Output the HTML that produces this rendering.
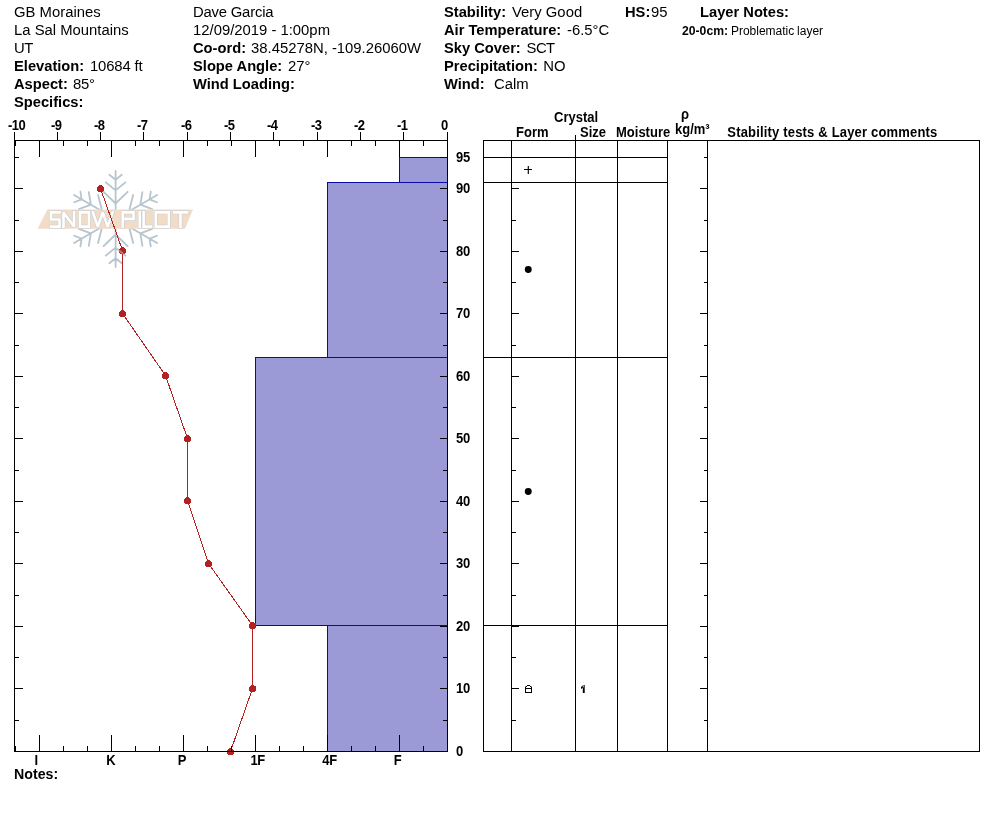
<!DOCTYPE html>
<html><head><meta charset="utf-8"><title>Snow Pit Profile</title>
<style>
html,body{margin:0;padding:0;background:#fff;}
body{width:994px;height:840px;position:relative;overflow:hidden;font-family:"Liberation Sans",sans-serif;color:#000;}
.t{position:absolute;white-space:pre;font-size:14.85px;line-height:18px;height:18px;transform:scaleY(1.0);transform-origin:0 14px;}
.k{transform:scaleY(1.03);}
.b{font-weight:bold;font-size:14.7px;}
.l{position:absolute;white-space:pre;font-size:13px;font-weight:bold;line-height:14px;height:14px;transform:scaleY(1.08);transform-origin:0 12px;}
.c{text-align:center;width:40px;margin-left:-20px;}
.s{position:absolute;white-space:pre;font-size:12px;line-height:14px;height:14px;}
.s b{font-size:12.2px;}
svg{position:absolute;left:0;top:0;}
#tx{position:absolute;left:0;top:0;width:994px;height:840px;will-change:transform;}
</style></head><body>
<svg width="994" height="840" viewBox="0 0 994 840">
<defs><g id="flake" fill="none" stroke-width="1.8" stroke-linecap="round" stroke-linejoin="round">
<path transform="translate(115.6,219.0) rotate(0)" d="M0,-10 L0,-48 M-6.2,-44.2 L0,-39.2 L6.2,-44.2 M-9.8,-36.6 L0,-28.6 L9.8,-36.6 M-12,-27.2 L0,-15.5 L12,-27.2"/>
<path transform="translate(115.6,219.0) rotate(60)" d="M0,-10 L0,-48 M-6.2,-44.2 L0,-39.2 L6.2,-44.2 M-9.8,-36.6 L0,-28.6 L9.8,-36.6 M-12,-27.2 L0,-15.5 L12,-27.2"/>
<path transform="translate(115.6,219.0) rotate(120)" d="M0,-10 L0,-48 M-6.2,-44.2 L0,-39.2 L6.2,-44.2 M-9.8,-36.6 L0,-28.6 L9.8,-36.6 M-12,-27.2 L0,-15.5 L12,-27.2"/>
<path transform="translate(115.6,219.0) rotate(180)" d="M0,-10 L0,-48 M-6.2,-44.2 L0,-39.2 L6.2,-44.2 M-9.8,-36.6 L0,-28.6 L9.8,-36.6 M-12,-27.2 L0,-15.5 L12,-27.2"/>
<path transform="translate(115.6,219.0) rotate(240)" d="M0,-10 L0,-48 M-6.2,-44.2 L0,-39.2 L6.2,-44.2 M-9.8,-36.6 L0,-28.6 L9.8,-36.6 M-12,-27.2 L0,-15.5 L12,-27.2"/>
<path transform="translate(115.6,219.0) rotate(300)" d="M0,-10 L0,-48 M-6.2,-44.2 L0,-39.2 L6.2,-44.2 M-9.8,-36.6 L0,-28.6 L9.8,-36.6 M-12,-27.2 L0,-15.5 L12,-27.2"/>
</g></defs>
<use href="#flake" stroke="#b7c5ce"/>
<polygon points="47.4,209.5 193,209.5 185,228.8 37.6,228.8" fill="#f1dcc8"/>
<path d="M59.5,212.4 H51.0 V219.5 H59.5 V226.6 H51.0 M63.5,226.6 V212.4 L74.0,226.6 V212.4 M80.0,212.4 H88.9 V226.6 H80.0 Z M92.9,212.4 L97.825,226.6 L102.75,212.4 L107.675,226.6 L112.6,212.4 M122.7,226.6 V212.4 H133.5 V218.9 H122.7 M139.7,212.4 V226.6 M143.6,212.4 V226.6 H151.2 M155.8,212.4 H168.8 V226.6 H155.8 Z M173.9,212.4 H187.0 M180.45,212.4 V226.6" fill="none" stroke="#c3ccd3" stroke-width="3.6" stroke-linejoin="miter" stroke-miterlimit="2" stroke-linecap="square"/>
<path d="M59.5,212.4 H51.0 V219.5 H59.5 V226.6 H51.0 M63.5,226.6 V212.4 L74.0,226.6 V212.4 M80.0,212.4 H88.9 V226.6 H80.0 Z M92.9,212.4 L97.825,226.6 L102.75,212.4 L107.675,226.6 L112.6,212.4 M122.7,226.6 V212.4 H133.5 V218.9 H122.7 M139.7,212.4 V226.6 M143.6,212.4 V226.6 H151.2 M155.8,212.4 H168.8 V226.6 H155.8 Z M173.9,212.4 H187.0 M180.45,212.4 V226.6" fill="none" stroke="#ffffff" stroke-width="2.6" stroke-linejoin="miter" stroke-miterlimit="2" stroke-linecap="square"/>
<g shape-rendering="crispEdges">
<rect x="399" y="157" width="48" height="25" fill="#9b9ad7"/>
<rect x="327" y="182" width="120" height="175" fill="#9b9ad7"/>
<rect x="255" y="357" width="192" height="268" fill="#9b9ad7"/>
<rect x="327" y="625" width="120" height="126" fill="#9b9ad7"/>
<rect x="399" y="157" width="49" height="1" fill="#0a0aa8"/>
<rect x="399" y="182" width="49" height="1" fill="#0a0aa8"/>
<rect x="399" y="157" width="1" height="26" fill="#0a0aa8"/>
<rect x="327" y="182" width="121" height="1" fill="#0a0aa8"/>
<rect x="327" y="357" width="121" height="1" fill="#0a0aa8"/>
<rect x="327" y="182" width="1" height="176" fill="#0a0aa8"/>
<rect x="255" y="357" width="193" height="1" fill="#0a0aa8"/>
<rect x="255" y="625" width="193" height="1" fill="#0a0aa8"/>
<rect x="255" y="357" width="1" height="269" fill="#0a0aa8"/>
<rect x="327" y="625" width="121" height="1" fill="#0a0aa8"/>
<rect x="327" y="751" width="121" height="1" fill="#0a0aa8"/>
<rect x="327" y="625" width="1" height="127" fill="#0a0aa8"/>
</g>
<g shape-rendering="crispEdges">
<polyline points="100.5,188.5 122.5,250.5 122.5,313.5 165.5,375.5 187.5,438.5 187.5,500.5 208.5,563.5 252.5,625.5 252.5,688.5 230.5,751.5" fill="none" stroke="#b22222" stroke-width="1"/>
<circle cx="100.5" cy="188.5" r="3.5" fill="#b22222"/>
<circle cx="122.5" cy="250.5" r="3.5" fill="#b22222"/>
<circle cx="122.5" cy="313.5" r="3.5" fill="#b22222"/>
<circle cx="165.5" cy="375.5" r="3.5" fill="#b22222"/>
<circle cx="187.5" cy="438.5" r="3.5" fill="#b22222"/>
<circle cx="187.5" cy="500.5" r="3.5" fill="#b22222"/>
<circle cx="208.5" cy="563.5" r="3.5" fill="#b22222"/>
<circle cx="252.5" cy="625.5" r="3.5" fill="#b22222"/>
<circle cx="252.5" cy="688.5" r="3.5" fill="#b22222"/>
<circle cx="230.5" cy="751.5" r="3.5" fill="#b22222"/>
</g>
<clipPath id="cp"><circle cx="100.5" cy="188.5" r="3.5"/><circle cx="122.5" cy="250.5" r="3.5"/></clipPath>
<use href="#flake" stroke="#dfe6ea" opacity="0.45" clip-path="url(#cp)"/>
<g shape-rendering="crispEdges">
<rect x="14" y="140" width="434" height="1" fill="#000"/>
<rect x="14" y="751" width="434" height="1" fill="#000"/>
<rect x="14" y="132" width="1" height="620" fill="#000"/>
<rect x="447" y="132" width="1" height="620" fill="#000"/>
<rect x="14" y="132" width="1" height="9" fill="#000"/>
<rect x="57" y="132" width="1" height="9" fill="#000"/>
<rect x="100" y="132" width="1" height="9" fill="#000"/>
<rect x="143" y="132" width="1" height="9" fill="#000"/>
<rect x="187" y="132" width="1" height="9" fill="#000"/>
<rect x="230" y="132" width="1" height="9" fill="#000"/>
<rect x="273" y="132" width="1" height="9" fill="#000"/>
<rect x="317" y="132" width="1" height="9" fill="#000"/>
<rect x="360" y="132" width="1" height="9" fill="#000"/>
<rect x="403" y="132" width="1" height="9" fill="#000"/>
<rect x="447" y="132" width="1" height="9" fill="#000"/>
<rect x="15" y="140" width="1" height="6" fill="#000"/>
<rect x="15" y="746" width="1" height="6" fill="#000"/>
<rect x="39" y="140" width="1" height="17" fill="#000"/>
<rect x="39" y="735" width="1" height="17" fill="#000"/>
<rect x="63" y="140" width="1" height="6" fill="#000"/>
<rect x="63" y="746" width="1" height="6" fill="#000"/>
<rect x="87" y="140" width="1" height="6" fill="#000"/>
<rect x="87" y="746" width="1" height="6" fill="#000"/>
<rect x="111" y="140" width="1" height="17" fill="#000"/>
<rect x="111" y="735" width="1" height="17" fill="#000"/>
<rect x="135" y="140" width="1" height="6" fill="#000"/>
<rect x="135" y="746" width="1" height="6" fill="#000"/>
<rect x="159" y="140" width="1" height="6" fill="#000"/>
<rect x="159" y="746" width="1" height="6" fill="#000"/>
<rect x="183" y="140" width="1" height="17" fill="#000"/>
<rect x="183" y="735" width="1" height="17" fill="#000"/>
<rect x="207" y="140" width="1" height="6" fill="#000"/>
<rect x="207" y="746" width="1" height="6" fill="#000"/>
<rect x="231" y="140" width="1" height="6" fill="#000"/>
<rect x="231" y="746" width="1" height="6" fill="#000"/>
<rect x="255" y="140" width="1" height="17" fill="#000"/>
<rect x="255" y="735" width="1" height="17" fill="#000"/>
<rect x="279" y="140" width="1" height="6" fill="#000"/>
<rect x="279" y="746" width="1" height="6" fill="#000"/>
<rect x="303" y="140" width="1" height="6" fill="#000"/>
<rect x="303" y="746" width="1" height="6" fill="#000"/>
<rect x="327" y="140" width="1" height="17" fill="#000"/>
<rect x="327" y="735" width="1" height="17" fill="#000"/>
<rect x="351" y="140" width="1" height="6" fill="#000"/>
<rect x="351" y="746" width="1" height="6" fill="#000"/>
<rect x="375" y="140" width="1" height="6" fill="#000"/>
<rect x="375" y="746" width="1" height="6" fill="#000"/>
<rect x="399" y="140" width="1" height="17" fill="#000"/>
<rect x="399" y="735" width="1" height="17" fill="#000"/>
<rect x="423" y="140" width="1" height="6" fill="#000"/>
<rect x="423" y="746" width="1" height="6" fill="#000"/>
<rect x="447" y="140" width="1" height="6" fill="#000"/>
<rect x="447" y="746" width="1" height="6" fill="#000"/>
<rect x="14" y="751" width="9" height="1" fill="#000"/>
<rect x="440" y="751" width="8" height="1" fill="#000"/>
<rect x="14" y="720" width="5" height="1" fill="#000"/>
<rect x="443" y="720" width="5" height="1" fill="#000"/>
<rect x="14" y="688" width="9" height="1" fill="#000"/>
<rect x="440" y="688" width="8" height="1" fill="#000"/>
<rect x="14" y="657" width="5" height="1" fill="#000"/>
<rect x="443" y="657" width="5" height="1" fill="#000"/>
<rect x="14" y="626" width="9" height="1" fill="#000"/>
<rect x="440" y="626" width="8" height="1" fill="#000"/>
<rect x="14" y="595" width="5" height="1" fill="#000"/>
<rect x="443" y="595" width="5" height="1" fill="#000"/>
<rect x="14" y="563" width="9" height="1" fill="#000"/>
<rect x="440" y="563" width="8" height="1" fill="#000"/>
<rect x="14" y="532" width="5" height="1" fill="#000"/>
<rect x="443" y="532" width="5" height="1" fill="#000"/>
<rect x="14" y="501" width="9" height="1" fill="#000"/>
<rect x="440" y="501" width="8" height="1" fill="#000"/>
<rect x="14" y="470" width="5" height="1" fill="#000"/>
<rect x="443" y="470" width="5" height="1" fill="#000"/>
<rect x="14" y="438" width="9" height="1" fill="#000"/>
<rect x="440" y="438" width="8" height="1" fill="#000"/>
<rect x="14" y="407" width="5" height="1" fill="#000"/>
<rect x="443" y="407" width="5" height="1" fill="#000"/>
<rect x="14" y="376" width="9" height="1" fill="#000"/>
<rect x="440" y="376" width="8" height="1" fill="#000"/>
<rect x="14" y="345" width="5" height="1" fill="#000"/>
<rect x="443" y="345" width="5" height="1" fill="#000"/>
<rect x="14" y="313" width="9" height="1" fill="#000"/>
<rect x="440" y="313" width="8" height="1" fill="#000"/>
<rect x="14" y="282" width="5" height="1" fill="#000"/>
<rect x="443" y="282" width="5" height="1" fill="#000"/>
<rect x="14" y="251" width="9" height="1" fill="#000"/>
<rect x="440" y="251" width="8" height="1" fill="#000"/>
<rect x="14" y="220" width="5" height="1" fill="#000"/>
<rect x="443" y="220" width="5" height="1" fill="#000"/>
<rect x="14" y="188" width="9" height="1" fill="#000"/>
<rect x="440" y="188" width="8" height="1" fill="#000"/>
<rect x="14" y="157" width="5" height="1" fill="#000"/>
<rect x="440" y="157" width="8" height="1" fill="#000"/>
<rect x="483" y="140" width="497" height="1" fill="#000"/>
<rect x="483" y="751" width="497" height="1" fill="#000"/>
<rect x="483" y="140" width="1" height="612" fill="#000"/>
<rect x="979" y="140" width="1" height="612" fill="#000"/>
<rect x="511" y="140" width="1" height="612" fill="#000"/>
<rect x="575" y="140" width="1" height="612" fill="#000"/>
<rect x="617" y="140" width="1" height="612" fill="#000"/>
<rect x="667" y="140" width="1" height="612" fill="#000"/>
<rect x="707" y="140" width="1" height="612" fill="#000"/>
<rect x="575" y="135" width="1" height="6" fill="#000"/>
<rect x="483" y="157" width="185" height="1" fill="#000"/>
<rect x="483" y="182" width="185" height="1" fill="#000"/>
<rect x="483" y="357" width="185" height="1" fill="#000"/>
<rect x="483" y="625" width="185" height="1" fill="#000"/>
<rect x="511" y="751" width="8" height="1" fill="#000"/>
<rect x="700" y="751" width="8" height="1" fill="#000"/>
<rect x="511" y="720" width="5" height="1" fill="#000"/>
<rect x="704" y="720" width="4" height="1" fill="#000"/>
<rect x="511" y="688" width="8" height="1" fill="#000"/>
<rect x="700" y="688" width="8" height="1" fill="#000"/>
<rect x="511" y="657" width="5" height="1" fill="#000"/>
<rect x="704" y="657" width="4" height="1" fill="#000"/>
<rect x="511" y="626" width="8" height="1" fill="#000"/>
<rect x="700" y="626" width="8" height="1" fill="#000"/>
<rect x="511" y="595" width="5" height="1" fill="#000"/>
<rect x="704" y="595" width="4" height="1" fill="#000"/>
<rect x="511" y="563" width="8" height="1" fill="#000"/>
<rect x="700" y="563" width="8" height="1" fill="#000"/>
<rect x="511" y="532" width="5" height="1" fill="#000"/>
<rect x="704" y="532" width="4" height="1" fill="#000"/>
<rect x="511" y="501" width="8" height="1" fill="#000"/>
<rect x="700" y="501" width="8" height="1" fill="#000"/>
<rect x="511" y="470" width="5" height="1" fill="#000"/>
<rect x="704" y="470" width="4" height="1" fill="#000"/>
<rect x="511" y="438" width="8" height="1" fill="#000"/>
<rect x="700" y="438" width="8" height="1" fill="#000"/>
<rect x="511" y="407" width="5" height="1" fill="#000"/>
<rect x="704" y="407" width="4" height="1" fill="#000"/>
<rect x="511" y="376" width="8" height="1" fill="#000"/>
<rect x="700" y="376" width="8" height="1" fill="#000"/>
<rect x="511" y="345" width="5" height="1" fill="#000"/>
<rect x="704" y="345" width="4" height="1" fill="#000"/>
<rect x="511" y="313" width="8" height="1" fill="#000"/>
<rect x="700" y="313" width="8" height="1" fill="#000"/>
<rect x="511" y="282" width="5" height="1" fill="#000"/>
<rect x="704" y="282" width="4" height="1" fill="#000"/>
<rect x="511" y="251" width="8" height="1" fill="#000"/>
<rect x="700" y="251" width="8" height="1" fill="#000"/>
<rect x="511" y="220" width="5" height="1" fill="#000"/>
<rect x="704" y="220" width="4" height="1" fill="#000"/>
<rect x="511" y="188" width="8" height="1" fill="#000"/>
<rect x="700" y="188" width="8" height="1" fill="#000"/>
<rect x="511" y="157" width="5" height="1" fill="#000"/>
<rect x="704" y="157" width="4" height="1" fill="#000"/>
<rect x="524" y="169" width="8" height="1" fill="#000"/>
<rect x="528" y="166" width="1" height="8" fill="#222"/>
<rect x="527" y="166" width="1" height="8" fill="#b8b8b8"/>
<rect x="524" y="169" width="8" height="1" fill="#000"/>
<rect x="527" y="685" width="3" height="1" fill="#000"/>
<rect x="526" y="686" width="1" height="1" fill="#000"/>
<rect x="530" y="686" width="1" height="1" fill="#000"/>
<rect x="525" y="688" width="7" height="1" fill="#000"/>
<rect x="525" y="692" width="7" height="1" fill="#000"/>
<rect x="525" y="687" width="1" height="6" fill="#000"/>
<rect x="531" y="687" width="1" height="6" fill="#000"/>
</g>
<rect x="525" y="686" width="1" height="1" fill="#000" opacity="0.45"/><rect x="531" y="686" width="1" height="1" fill="#000" opacity="0.45"/>
<circle cx="528.25" cy="269.45" r="3.45" fill="#000"/>
<circle cx="528.25" cy="491.45" r="3.45" fill="#000"/>
<path d="M582.8,685 h1.9 v8 h-1.9 Z M583.6,685 L581,687.1 L581,688.9 L583.6,687.2 Z" fill="#000"/>
</svg><div id="tx"><div class="t" style="left:14px;top:3px;">GB Moraines</div><div class="t" style="left:14px;top:21px;">La Sal Mountains</div><div class="t" style="left:14px;top:39px;letter-spacing:-0.5px;">UT</div><div class="t k" style="left:14px;top:57px;"><span class="b">Elevation:</span></div><div class="t" style="left:90px;top:57px;letter-spacing:-0.15px;">10684 ft</div><div class="t k" style="left:14px;top:75px;"><span class="b">Aspect:</span></div><div class="t" style="left:73px;top:75px;letter-spacing:-0.2px;">85°</div><div class="t k" style="left:14px;top:93px;"><span class="b">Specifics:</span></div><div class="t" style="left:193px;top:3px;letter-spacing:-0.2px;">Dave Garcia</div><div class="t" style="left:193px;top:21px;">12/09/2019 - 1:00pm</div><div class="t k" style="left:193px;top:39px;"><span class="b">Co-ord:</span></div><div class="t" style="left:251px;top:39px;">38.45278N, -109.26060W</div><div class="t k" style="left:193px;top:57px;"><span class="b">Slope Angle:</span></div><div class="t" style="left:288px;top:57px;">27°</div><div class="t k" style="left:193px;top:75px;"><span class="b">Wind Loading:</span></div><div class="t k" style="left:444px;top:3px;"><span class="b">Stability:</span></div><div class="t" style="left:512px;top:3px;">Very Good</div><div class="t k" style="left:444px;top:21px;"><span class="b">Air Temperature:</span></div><div class="t" style="left:567px;top:21px;">-6.5°C</div><div class="t k" style="left:444px;top:39px;"><span class="b">Sky Cover:</span></div><div class="t" style="left:526.5px;top:39px;letter-spacing:-0.5px;">SCT</div><div class="t k" style="left:444px;top:57px;"><span class="b">Precipitation:</span></div><div class="t" style="left:543.3px;top:57px;">NO</div><div class="t k" style="left:444px;top:75px;"><span class="b">Wind:</span></div><div class="t" style="left:494px;top:75px;">Calm</div><div class="t k" style="left:625px;top:3px;"><span class="b">HS:</span></div><div class="t" style="left:651px;top:3px;">95</div><div class="t k" style="left:700px;top:3px;"><span class="b">Layer Notes:</span></div><div class="s" style="left:682px;top:24px;word-spacing:-0.5px;"><b>20-0cm:</b> Problematic layer</div><div class="t k" style="left:14px;top:765px;"><span class="b" style="font-size:14.2px">Notes:</span></div><div class="l" style="left:8px;top:119px;letter-spacing:-0.5px;">-10</div><div class="l" style="left:51px;top:119px;letter-spacing:-0.5px;">-9</div><div class="l" style="left:94px;top:119px;letter-spacing:-0.5px;">-8</div><div class="l" style="left:137px;top:119px;letter-spacing:-0.5px;">-7</div><div class="l" style="left:181px;top:119px;letter-spacing:-0.5px;">-6</div><div class="l" style="left:224px;top:119px;letter-spacing:-0.5px;">-5</div><div class="l" style="left:267px;top:119px;letter-spacing:-0.5px;">-4</div><div class="l" style="left:311px;top:119px;letter-spacing:-0.5px;">-3</div><div class="l" style="left:354px;top:119px;letter-spacing:-0.5px;">-2</div><div class="l" style="left:397px;top:119px;letter-spacing:-0.5px;">-1</div><div class="l" style="left:441px;top:119px;letter-spacing:-0.5px;">0</div><div class="l c" style="left:36px;top:754px;letter-spacing:-0.4px;">I</div><div class="l c" style="left:110.7px;top:754px;letter-spacing:-0.4px;">K</div><div class="l c" style="left:182px;top:754px;letter-spacing:-0.4px;">P</div><div class="l c" style="left:257.7px;top:754px;letter-spacing:-0.4px;">1F</div><div class="l c" style="left:329.5px;top:754px;letter-spacing:-0.4px;">4F</div><div class="l c" style="left:397.5px;top:754px;letter-spacing:-0.4px;">F</div><div class="l" style="left:456px;top:745px;letter-spacing:-0.3px;">0</div><div class="l" style="left:456px;top:682px;letter-spacing:-0.3px;">10</div><div class="l" style="left:456px;top:620px;letter-spacing:-0.3px;">20</div><div class="l" style="left:456px;top:557px;letter-spacing:-0.3px;">30</div><div class="l" style="left:456px;top:495px;letter-spacing:-0.3px;">40</div><div class="l" style="left:456px;top:432px;letter-spacing:-0.3px;">50</div><div class="l" style="left:456px;top:370px;letter-spacing:-0.3px;">60</div><div class="l" style="left:456px;top:307px;letter-spacing:-0.3px;">70</div><div class="l" style="left:456px;top:245px;letter-spacing:-0.3px;">80</div><div class="l" style="left:456px;top:182px;letter-spacing:-0.3px;">90</div><div class="l" style="left:456px;top:151px;letter-spacing:-0.3px;">95</div><div class="l" style="left:554px;top:111px;">Crystal</div><div class="l" style="left:516px;top:126px;">Form</div><div class="l" style="left:580px;top:126px;">Size</div><div class="l" style="left:616px;top:126px;">Moisture</div><div class="l" style="left:681px;top:108px;">ρ</div><div class="l" style="left:675px;top:123px;">kg/m³</div><div class="l" style="left:727.3px;top:126px;letter-spacing:0.18px;">Stability tests &amp; Layer comments</div></div></body></html>
